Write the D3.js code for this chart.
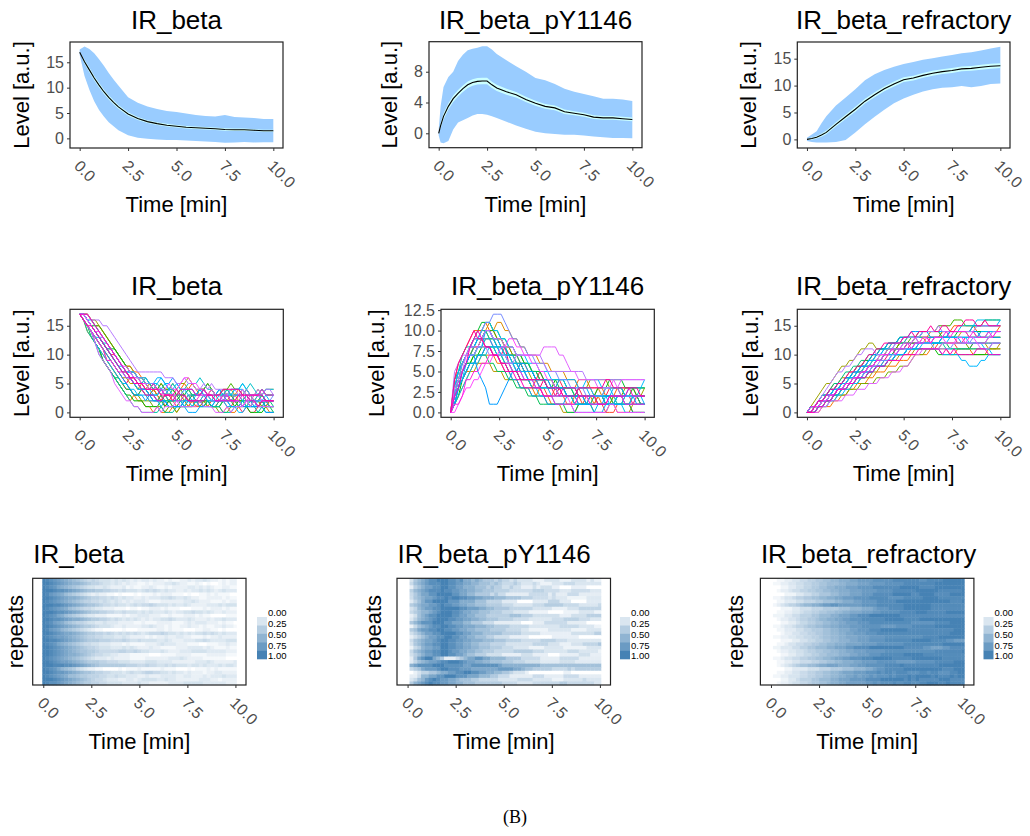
<!DOCTYPE html>
<html><head><meta charset="utf-8">
<script src="https://cdn.jsdelivr.net/npm/d3@7"></script>
<style>
body{margin:0;background:#fff}
text{font-family:"Liberation Sans",Arial,Helvetica,sans-serif}
</style>
</head><body>
<svg id="c" width="1030" height="836"></svg>
<script>
// ---------------- DATA ----------------
const titles = ["IR_beta", "IR_beta_pY1146", "IR_beta_refractory"];
const xTicks = [0, 2.5, 5, 7.5, 10];
const legendTicks = [0, 0.25, 0.5, 0.75, 1];

// Row 1: mean, SD band and SE band
const irbT = [0,0.25,0.5,0.75,1,1.25,1.5,1.75,2,2.5,3,3.5,4,4.5,5,5.5,6,6.5,7,7.5,8,8.5,9,9.5,10];
const irbMean = [17,15.1,13.5,11.9,10.5,9.2,8.1,7.1,6.2,4.8,3.9,3.3,2.9,2.6,2.4,2.2,2.1,2.0,1.9,1.75,1.7,1.7,1.6,1.5,1.5];
const irbUpper = [17.5,18.1,17.6,16.8,15.6,14.3,12.9,11.6,10.4,8.1,7.0,6.3,5.8,5.4,5.2,4.9,4.6,4.4,4.3,4.6,4.2,4.1,4.0,3.8,3.8];
const irbLower = [16.5,12.3,9.6,7.3,5.6,4.3,3.2,2.4,1.6,0.6,0.1,-0.1,-0.2,-0.3,-0.3,-0.4,-0.5,-0.6,-0.7,-0.85,-0.8,-0.7,-0.8,-0.75,-0.75];
const irbSE = [0.05,0.4,0.45,0.45,0.45,0.45,0.42,0.4,0.38,0.33,0.3,0.28,0.27,0.26,0.25,0.25,0.24,0.24,0.24,0.24,0.23,0.23,0.22,0.22,0.22];

const pyT = [0,0.1,0.25,0.5,0.75,1,1.25,1.5,1.75,2,2.25,2.5,2.75,3,3.5,4,4.5,5,5.5,6,6.5,7,7.5,8,8.5,9,9.5,10];
const pyMean = [0,1.0,2.2,3.5,4.5,5.2,5.8,6.3,6.6,6.75,6.8,6.8,6.3,5.9,5.4,5.0,4.4,3.9,3.5,3.3,2.8,2.6,2.4,2.1,2.0,2.0,1.9,1.8];
const pyUpper = [0.5,3.5,6.0,7.3,8.0,9.4,10.2,10.8,11.0,11.1,11.3,11.3,10.9,10.3,9.5,8.7,8.0,7.2,6.9,6.4,5.8,5.4,5.1,4.8,4.5,4.5,4.4,4.2];
const pyLower = [-0.3,-1.2,-1.3,-1.0,0.5,1.4,1.7,2.0,2.3,2.5,2.5,2.4,2.2,2.0,1.5,1.0,0.6,0.2,0.0,-0.1,-0.2,-0.2,-0.3,-0.4,-0.5,-0.6,-0.6,-0.65];
const pySE = [0.05,0.3,0.4,0.4,0.42,0.42,0.42,0.42,0.42,0.42,0.42,0.42,0.4,0.4,0.38,0.36,0.34,0.32,0.3,0.3,0.28,0.27,0.26,0.25,0.25,0.24,0.24,0.24];

const refT = [0,0.25,0.5,0.75,1,1.5,2,2.5,3,3.5,4,4.5,5,5.5,6,6.5,7,7.5,8,8.5,9,9.5,10];
const refMean = [0,0.15,0.4,0.8,1.3,2.8,4.2,5.6,7.1,8.3,9.4,10.3,11.1,11.4,11.9,12.3,12.6,12.8,13.1,13.2,13.4,13.6,13.7];
const refUpper = [0.3,0.9,1.5,3.0,4.3,6.3,7.8,9.3,11.0,12.1,12.9,13.5,14.0,14.4,14.8,15.1,15.4,15.7,16.0,16.2,16.5,16.9,17.2];
const refLower = [-0.3,-0.5,-0.6,-0.6,-0.6,-0.5,-0.1,1.3,2.8,4.2,5.5,6.7,7.6,8.3,8.9,9.3,9.6,9.7,9.9,9.7,9.9,10.3,10.4];
const refSE = [0.05,0.2,0.25,0.3,0.35,0.4,0.42,0.45,0.45,0.45,0.45,0.45,0.45,0.45,0.45,0.45,0.45,0.45,0.45,0.45,0.45,0.45,0.45];

// Rows 2 & 3: individual trajectories, one character per 0.2 min (base 36: 0-9, a=10 ... h=17)
const irbTraj = [
 "hgfed cba98 76565 44434 34323 23323 22121 12232 33432 21212 2",
 "hhgfe dcbaa 98766 54434 32322 11212 22334 32211 21010 01212 2",
 "hgfec ba987 65443 34322 23121 12232 11212 22233 23232 11221 1",
 "hhhgf fedcb a9887 76655 45444 34545 43433 22323 34343 23433 3",
 "hgedc b9876 54323 22110 10001 01112 12221 11010 01121 21110 0",
 "hhgfe dcbba 98766 55454 34332 23233 34454 33432 21122 22121 1",
 "hgfed cba98 76655 45434 32323 33211 12222 22334 32221 11212 2",
 "hhhgg fedcb a9887 65545 44345 45565 44434 33432 22233 34344 4",
 "hgfed cb987 65543 32221 11011 01122 21211 10001 11212 22121 1",
 "hhhgf fedcb a9877 66554 45444 34343 33432 33445 44343 22322 2",
 "hgfec b9876 54332 22111 12122 33322 21121 11222 12110 00011 1",
 "hhgff edcbb a9877 66545 43434 32323 34454 33343 22232 33433 3",
 "hgfdc b9876 65443 34333 22221 12111 22221 11232 33322 21211 0",
 "hhgfe dcba9 87765 44432 23222 23343 22121 12232 21211 22322 1",
 "hgedc a9876 54321 10000 01000 11111 22121 11000 11221 10100 0",
 "hhgfe dccba 98776 65654 54545 43455 56544 34343 44545 43433 3",
 "hgfed dcba9 87665 54443 34322 22121 22322 33221 11212 23222 2",
 "hhggf edcba 98777 66655 56544 54444 33432 22333 44543 33344 4",
 "hgfec ba987 65544 33322 21211 11222 34333 22211 10011 12232 2",
 "hhgfe dcba9 87665 44433 34343 22232 21111 22233 33232 11121 1",
 "hhgfe dcba9 88776 55555 66556 54433 34322 23334 44433 33322 2",
 "hhgfe dcbba 98765 54433 22211 11100 01111 22221 11122 22211 1",
 "hgfed cba98 76543 33232 22211 11222 22233 34322 22111 11100 0",
 "hhgfe ddcba 98777 66555 44433 33444 33332 22222 33343 22222 3",
 "hhhgg gffed cba98 77777 77666 55655 44545 44434 43433 34344 3",
 "hgfec a9875 43221 10000 10111 21111 12111 00010 11121 21111 1",
 "hhgfe edcba 98876 65544 43454 45665 54434 33232 22122 33222 2",
 "hgfed cb998 77666 55445 44333 22322 23333 22332 22323 33433 3",
 "hhhgf edcba 98765 54333 22332 34444 33433 22222 23332 21222 2",
 "hgffe dcba9 87766 55444 43333 43322 22233 33444 44333 33322 2"
];
const pyTraj = [
 "02456 78899 98878 66565 44434 33232 22211 12222 11122 22121 1",
 "03567 8999a a9988 77665 55454 33343 22232 11122 23332 22222 2",
 "01345 66778 87766 55544 43433 22322 11121 22211 00011 11000 0",
 "04678 9aaab aa998 87766 55544 44333 33344 43333 22233 33322 2",
 "02345 56677 77665 54433 33232 21111 11222 22121 11222 11111 1",
 "03567 889aa babba a9988 77766 65555 44433 33232 22111 11222 2",
 "01234 55666 65554 44433 32222 11110 00011 11222 11100 00111 1",
 "04567 7889a 99887 76655 54444 33322 22233 34444 43333 22222 3",
 "02356 77889 99998 87776 65544 44333 33322 22211 11222 33333 3",
 "03456 6789a aa998 77665 55444 33322 22111 11000 01111 22221 1",
 "01245 67788 88776 65544 43333 33444 33322 22222 11122 22333 3",
 "02467 89abb baa99 88776 65554 44433 33222 22233 34444 33322 2",
 "03456 66777 66555 44333 22211 11111 00011 12222 22111 11000 0",
 "01356 7899a a9988 77766 65544 44333 33222 22222 33333 22221 1",
 "04578 899aa 99887 76655 55444 43333 22111 11222 22211 11222 2",
 "02345 66778 88877 66555 44444 33333 22222 11111 11122 22223 3",
 "01234 56677 88776 65544 43322 22111 11000 00011 11111 00000 0",
 "03567 889ab baa99 88777 66655 54444 33333 44443 33222 22222 2",
 "02456 77889 98877 66554 44333 32222 22233 33222 11122 23333 4",
 "01346 7788a a9988 77665 55444 33322 22111 12222 21111 11222 2",
 "03567 8899a a9887 76655 44433 33344 44433 32222 22333 22222 1",
 "02345 66778 87766 54433 32222 11111 22211 11000 11111 22211 1",
 "01356 77543 11123 45566 55444 43333 22222 11111 22222 11111 1",
 "02467 899ab bcccb a9988 77666 55544 43333 22222 33332 22222 2",
 "05677 77888 77777 66777 77776 55555 55555 44444 44444 44444 4",
 "03457 8889a a9998 88777 77778 88877 65544 44433 33434 44444 4",
 "00123 34456 67788 99887 76655 44322 21000 00000 01100 00000 0",
 "01124 45566 77766 65554 44332 22111 11122 21111 12222 11111 1",
 "02356 89a98 87765 55443 33332 22223 33322 22211 12222 23222 2",
 "04678 9a998 87766 55544 44444 33332 22233 33333 44333 33332 2"
];
const refTraj = [
 "00112 23344 55667 78899 9aabb bbccc ccddd ddddc cdddd eeeee e",
 "01122 33445 56677 88899 aaabb bcccc ddddd eeeee eeeff fffff f",
 "00011 22334 45566 77888 999aa aabbb bbbbc ccccb bbbcc ccccc c",
 "00122 34455 66778 899aa abbbc cccdd ddeee eeeff ffffe eeeee f",
 "00001 11223 34455 56677 78889 99aaa aabbb bbaab bbbaa aabbb b",
 "01123 34556 67788 99aab bbccc cdddd dcccc ddddd eeeed ddddd d",
 "00112 22334 44556 66778 8899a aaabb bbbcc ccccc ccccc ccbbb c",
 "01234 55678 899ab bccbb bbbbc cccdd ddddd eeeee eeddd ddddd d",
 "00011 12233 34445 55566 67778 889aa abbbb ccccc ccbbb bbbbb b",
 "00112 23345 56677 8899a abbbc ccdde eeeef fffgg gffff fgggg g",
 "01112 23344 45566 67788 899aa abbbb bbbba aaaaa aaaaa aaaaa a",
 "00122 33455 66788 99aab bcccd ddddd eeeee dddde eeeee eeeee e",
 "00011 22344 55667 78899 aaabb bcccc ccccc ccbbb bbbcc ccddd d",
 "01123 34556 77889 9aabb bcccd ddddc cccdd ddeee eeeff fffff f",
 "00112 22334 45556 67788 899aa abbbc ccccc cbbbb bbbbb bbbcc c",
 "00012 23344 55667 78899 aabbb cccdd ddddd ddddd ddddd ddeee e",
 "01122 33445 56678 899aa bbbcc cdddd eeeee eeeee ffffg ggggg g",
 "00011 12233 44556 67788 899aa abbbb ccccc ccddd ddccc cbbaa a",
 "00112 33445 56677 88999 aaaab bbbcc ccccc ddddd ddddd eeeee e",
 "01122 23344 55666 77888 99aaa abbbb bbbbb aaaaa 99888 99aaa a",
 "00122 33445 66778 899aa bbccc ddddd eeeee eeeee eeeff fffff g",
 "00011 22334 45566 77788 899aa abbbc ccccc ddddd ccccc ccccc c",
 "01123 34455 66778 89aab bcccd ddeee eeddd ddeee eeeee ddddd d",
 "00112 23344 45566 77889 99aab bbbcc cccbb bbbcc cccdd dddee e",
 "00123 45677 889aa bbbaa abbcc ddddd eeeef eeeee eeeef fffff f",
 "00001 12222 33344 45556 66777 889aa bbbbb ccccc ccccc bbbcc c",
 "00112 23344 55667 7889a aabbb cccdc ddcdd dcccd dcddc ccdde e",
 "01122 33344 55667 78899 aabab bcbcc cdcdd dedee eeded ddede e",
 "00011 22344 45566 67788 89999 aaaab bbbbb ababa aaaab bbaaa a",
 "00122 34455 67788 9aabb ccccc ddede eefee ffeef fgggf fgfff f"
];

// ---------------- HELPERS ----------------
function parseTraj(s) {
  const c = s.replace(/ /g, "").split("");
  const n = c.length;
  return c.map((ch, i) => ({ t: 10 * i / (n - 1), v: parseInt(ch, 36) }));
}
const svg = d3.select("#c");
const TXT = "#4d4d4d";
const FONT_TICK = 16;
const FF = '"Liberation Sans",Arial,sans-serif';

function xAxis(g, xs, y1) {
  const ax = g.append("g").attr("transform", `translate(0,${y1})`)
    .call(d3.axisBottom(xs).tickValues(xTicks).tickFormat(d3.format(".1f")).tickSize(3).tickSizeOuter(0));
  ax.select(".domain").remove();
  ax.selectAll(".tick line").attr("stroke", "#333").attr("stroke-width", 1);
  ax.selectAll(".tick text")
    .attr("x", -7).attr("y", 19).attr("dy", 0)
    .attr("text-anchor", "start")
    .attr("transform", "rotate(45,-7,19)")
    .attr("fill", TXT).style("font-size", FONT_TICK + "px").style("font-family", FF);
}
function yAxis(g, ys, x0, ticks, fmt) {
  const ax = g.append("g").attr("transform", `translate(${x0},0)`)
    .call(d3.axisLeft(ys).tickValues(ticks).tickFormat(fmt).tickSize(3).tickPadding(3).tickSizeOuter(0));
  ax.select(".domain").remove();
  ax.selectAll(".tick line").attr("stroke", "#333").attr("stroke-width", 1);
  ax.selectAll(".tick text").attr("fill", TXT).style("font-size", FONT_TICK + "px").style("font-family", FF);
}
function frame(g, L) {
  g.append("rect").attr("x", L.x0).attr("y", L.y0).attr("width", L.x1 - L.x0).attr("height", L.y1 - L.y0)
    .attr("fill", "none").attr("stroke", "#222").attr("stroke-width", 1.2);
}
function labels(g, L, title, titleY, ylab, ylabX, centered) {
  g.append("text").attr("x", centered ? (L.x0 + L.x1) / 2 : L.x0 + 0.5).attr("y", titleY)
    .attr("text-anchor", centered ? "middle" : "start").style("font-size", "26px").attr("fill", "#000").text(title);
  g.append("text").attr("x", (L.x0 + L.x1) / 2).attr("y", L.y1 + 64)
    .attr("text-anchor", "middle").style("font-size", "22px").attr("fill", "#000").text("Time [min]");
  g.append("text").attr("transform", `translate(${ylabX},${(L.y0 + L.y1) / 2}) rotate(-90)`)
    .attr("dy", "0.35em").attr("text-anchor", "middle").style("font-size", "22px").attr("fill", "#000").text(ylab);
}

// ---------------- ROW 1 ----------------
const row1 = [
  { x0: 70, x1: 283, y0: 42, y1: 148, yDom: [-1.9, 19.0], yTicks: [0, 5, 10, 15], ylabX: 21.7,
    T: irbT, mean: irbMean, up: irbUpper, lo: irbLower, se: irbSE },
  { x0: 429, x1: 642, y0: 41.7, y1: 147.7, yDom: [-1.87, 11.9], yTicks: [0, 4, 8], ylabX: 389,
    T: pyT, mean: pyMean, up: pyUpper, lo: pyLower, se: pySE },
  { x0: 797.3, x1: 1010, y0: 42, y1: 148, yDom: [-1.6, 18.1], yTicks: [0, 5, 10, 15], ylabX: 748,
    T: refT, mean: refMean, up: refUpper, lo: refLower, se: refSE }
];
row1.forEach((L, k) => {
  const g = svg.append("g");
  const xs = d3.scaleLinear().domain([-0.5, 10.5]).range([L.x0, L.x1]);
  const ys = d3.scaleLinear().domain(L.yDom).range([L.y1, L.y0]);
  const pts = L.T.map((t, i) => ({ t, m: L.mean[i], u: L.up[i], l: L.lo[i], s: L.se[i] }));
  g.append("path").datum(pts).attr("fill", "#99ccff")
    .attr("d", d3.area().x(d => xs(d.t)).y0(d => ys(d.l)).y1(d => ys(d.u)));
  g.append("path").datum(pts).attr("fill", "#ccffff")
    .attr("d", d3.area().x(d => xs(d.t)).y0(d => ys(d.m - d.s)).y1(d => ys(d.m + d.s)));
  g.append("path").datum(pts).attr("fill", "none").attr("stroke", "#000").attr("stroke-width", 1.1)
    .attr("d", d3.line().x(d => xs(d.t)).y(d => ys(d.m)));
  frame(g, L);
  xAxis(g, xs, L.y1);
  yAxis(g, ys, L.x0, L.yTicks, d3.format("d"));
  labels(g, L, titles[k], 28.5, "Level [a.u.]", L.ylabX, true);
});

// ---------------- ROW 2 ----------------
const row2 = [
  { x0: 70, x1: 283.3, yDom: [-0.85, 17.85], yTicks: [0, 5, 10, 15], fmt: d3.format("d"), ylabX: 21.7, data: irbTraj },
  { x0: 441, x1: 654.3, yDom: [-0.6, 12.6], yTicks: [0, 2.5, 5, 7.5, 10, 12.5], fmt: d3.format(".1f"), ylabX: 376.7, data: pyTraj },
  { x0: 797.3, x1: 1010, yDom: [-0.85, 17.85], yTicks: [0, 5, 10, 15], fmt: d3.format("d"), ylabX: 750, data: refTraj }
];
row2.forEach((L, k) => {
  L.y0 = 309.3; L.y1 = 417.3;
  const g = svg.append("g");
  const xs = d3.scaleLinear().domain([-0.5, 10.5]).range([L.x0, L.x1]);
  const ys = d3.scaleLinear().domain(L.yDom).range([L.y1, L.y0]);
  const series = L.data.map(parseTraj);
  const n = series.length;
  const col = i => d3.hcl(15 + 360 * i / n, 100, 65).formatHex();
  const line = d3.line().x(d => xs(d.t)).y(d => ys(d.v));
  g.selectAll("path.traj").data(series).join("path").attr("class", "traj")
    .attr("fill", "none").attr("stroke", (d, i) => col(i)).attr("stroke-width", 1)
    .attr("d", line);
  frame(g, L);
  xAxis(g, xs, L.y1);
  yAxis(g, ys, L.x0, L.yTicks, L.fmt);
  labels(g, L, titles[k], 295, "Level [a.u.]", L.ylabX, true);
});

// ---------------- ROW 3 ----------------
const row3 = [
  { x0: 32.7, x1: 246, ylabX: 15, legX: 257, data: irbTraj },
  { x0: 397, x1: 610.5, ylabX: 373, legX: 620, data: pyTraj },
  { x0: 760.4, x1: 973.9, ylabX: 735, legX: 983.5, data: refTraj }
];
const heat = d3.scaleLinear().domain([0, 1]).range(["#ffffff", "#4682b4"]);
row3.forEach((L, k) => {
  L.y0 = 578.3; L.y1 = 685;
  const g = svg.append("g");
  const xs = d3.scaleLinear().domain([-0.55, 10.55]).range([L.x0, L.x1]);
  const series = L.data.map(parseTraj);
  const yb = d3.scaleBand().domain(d3.range(series.length)).range([L.y0, L.y1]);
  series.forEach((s, r) => {
    const rmax = d3.max(s, d => d.v);
    const cells = s.map((d, i) => ({
      a: i === 0 ? d.t - 0.05 : (s[i - 1].t + d.t) / 2,
      b: i === s.length - 1 ? d.t + 0.05 : (s[i + 1].t + d.t) / 2,
      v: d.v / rmax
    }));
    g.selectAll(null).data(cells).join("rect")
      .attr("x", d => xs(d.a)).attr("width", d => xs(d.b) - xs(d.a) + 0.4)
      .attr("y", yb(r)).attr("height", yb.bandwidth() + 0.4)
      .attr("fill", d => heat(d.v));
  });
  frame(g, L);
  xAxis(g, xs, L.y1);
  labels(g, L, titles[k], 563, "repeats", L.ylabX, false);
  // legend
  const lg = g.append("g");
  const bandVals = [0.2, 0.4, 0.6, 0.8, 1.0];
  const ly = d3.scaleLinear().domain([0, 1]).range([617, 659]);
  lg.selectAll("rect").data(bandVals).join("rect")
    .attr("x", L.legX).attr("width", 10)
    .attr("y", (d, i) => ly(i / bandVals.length)).attr("height", (ly(1) - ly(0)) / bandVals.length + 0.3)
    .attr("fill", d => heat(d));
  const lt = d3.scaleLinear().domain([0, 1]).range([613, 656]);
  lg.selectAll("text").data(legendTicks).join("text")
    .attr("x", L.legX + 11).attr("y", d => lt(d)).attr("dy", "0.35em")
    .style("font-size", "9.5px").attr("fill", "#000").text(d => d3.format(".2f")(d));
});

// caption
svg.append("text").attr("x", 515).attr("y", 823).attr("text-anchor", "middle")
  .style("font-family", '"Liberation Serif","DejaVu Serif",serif').style("font-size", "18px").text("(B)");
</script>
</body></html>
